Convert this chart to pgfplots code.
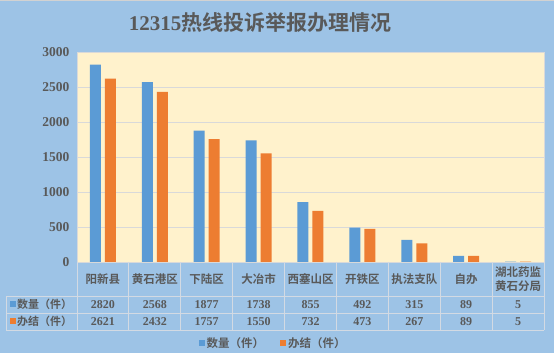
\documentclass[border=0pt]{standalone}
\usepackage{fontspec}
\setmainfont{Liberation Serif}
\newfontfamily\cjk{Noto Sans CJK SC}[BoldFont={Noto Sans CJK SC Bold}]
\usepackage{pgfplots}
\pgfplotsset{compat=1.18}
\definecolor{bg}{HTML}{9DC3E6}
\definecolor{plotbg}{HTML}{FFF2CC}
\definecolor{cblue}{HTML}{5B9BD5}
\definecolor{corange}{HTML}{ED7D31}
\definecolor{txt}{HTML}{595959}
\definecolor{gridc}{HTML}{D9D9D9}
\definecolor{tline}{HTML}{D3DAE3}
\begin{document}
\begin{tikzpicture}
\fill[bg] (0,0) rectangle (554pt,353pt);
\fill[gray!35] (0,351.5pt) rectangle (554pt,353pt);
\node[text=txt, font=\fontsize{21}{21}\selectfont, inner sep=0pt] at (260pt,330pt) {\bfseries 12315{\cjk\bfseries 热线投诉举报办理情况}};
\begin{axis}[
  at={(77pt,91pt)}, anchor=south west,
  scale only axis, width=467pt, height=210pt,
  xmin=-0.5, xmax=8.5, ymin=0, ymax=3000,
  ytick={0,500,...,3000}, xtick=\empty,
  ymajorgrids, grid style={gridc, line width=0.8pt},
  axis background/.style={fill=plotbg},
  axis line style={draw=gridc, line width=0.8pt},
  major tick length=0pt,
  yticklabel style={font=\bfseries\fontsize{13.5}{13.5}\selectfont, text=txt, xshift=-4pt},
  /pgf/number format/assume math mode=true,
  /pgf/number format/set thousands separator={},
  ybar=4pt, bar width=11pt,
  legend style={at={(0.42,-0.386)}, anchor=center, draw=none, fill=none,
    legend columns=2, font=\cjk\bfseries\fontsize{11.5}{11.5}\selectfont, text=txt,
    /tikz/every even column/.append style={column sep=14pt}},
  legend image code/.code={\fill[#1] (0pt,-3pt) rectangle (6pt,3pt);},
  clip=false]
\addplot[fill=cblue, draw=none] coordinates {(0,2820) (1,2568) (2,1877) (3,1738) (4,855) (5,492) (6,315) (7,89) (8,5)};
\addplot[fill=corange, draw=none] coordinates {(0,2621) (1,2432) (2,1757) (3,1550) (4,732) (5,473) (6,267) (7,89) (8,5)};
\legend{数量（件）,办结（件）}
\end{axis}
% data table
\foreach \k in {0,...,9} {
  \draw[tline, line width=0.8pt] ({77+51.889*\k*1pt}, 91pt) -- ({77+51.889*\k*1pt}, 23pt);
}
\draw[tline, line width=0.8pt] (6pt,57pt) -- (544pt,57pt) (6pt,40pt) -- (544pt,40pt) (6pt,23pt) -- (544pt,23pt) (6pt,57pt) -- (6pt,23pt);
\foreach \n [count=\i from 0] in {阳新县,黄石港区,下陆区,大冶市,西塞山区,开铁区,执法支队,自办,{湖北药监\\黄石分局}} {
  \node[text=txt, font=\cjk\bfseries\fontsize{11.5}{14}\selectfont, align=center, inner sep=0pt] at ({77pt+51.889pt*(\i+0.5)}, 73.5pt) {\n};
}
\foreach \v [count=\i from 0] in {2820,2568,1877,1738,855,492,315,89,5} {
  \node[text=txt, font=\bfseries\fontsize{12}{12}\selectfont, inner sep=0pt] at ({77pt+51.889pt*(\i+0.5)}, 48.5pt) {\v};
}
\foreach \v [count=\i from 0] in {2621,2432,1757,1550,732,473,267,89,5} {
  \node[text=txt, font=\bfseries\fontsize{12}{12}\selectfont, inner sep=0pt] at ({77pt+51.889pt*(\i+0.5)}, 31.5pt) {\v};
}
\fill[cblue] (10pt,45.5pt) rectangle (16pt,51.5pt);
\fill[corange] (10pt,28.5pt) rectangle (16pt,34.5pt);
\node[text=txt, font=\cjk\bfseries\fontsize{11}{11}\selectfont, anchor=west, inner sep=0pt] at (17pt,48.5pt) {数量（件）};
\node[text=txt, font=\cjk\bfseries\fontsize{11}{11}\selectfont, anchor=west, inner sep=0pt] at (17pt,31.5pt) {办结（件）};
\end{tikzpicture}
\end{document}
